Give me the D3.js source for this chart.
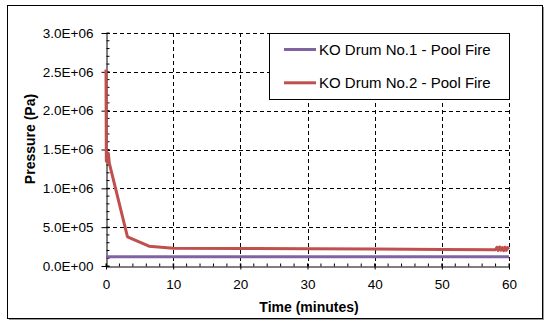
<!DOCTYPE html>
<html>
<head>
<meta charset="utf-8">
<script src="https://cdn.jsdelivr.net/npm/d3@7"></script>
<style>
  body { margin: 0; background: #fff; }
  svg { display: block; font-family: "Liberation Sans", Arial, sans-serif; }
</style>
</head>
<body>
<svg id="chart" width="546" height="322"></svg>
<script>
// ---- data ----
const seriesNames = ["KO Drum No.1 - Pool Fire", "KO Drum No.2 - Pool Fire"];
const seriesColors = ["#8064A2", "#C0504D"];
const drum1Time = [0, 10, 20, 30, 40, 50, 60];
const drum1Pressure = [120000, 120000, 120000, 120000, 120000, 120000, 120000];
const drum2Time = [0, 0.05, 0.35, 0.5, 3.2, 6.4, 10, 20, 30, 40, 50, 58, 58.2, 58.4, 58.6, 58.8, 59.0, 59.2, 59.4, 59.6, 59.8, 60];
const drum2Pressure = [2530000, 1350000, 1450000, 1320000, 375000, 255000, 230000, 226000, 222000, 218000, 213000, 210000, 240000, 200000, 245000, 205000, 238000, 198000, 242000, 202000, 236000, 215000];
const xTicks = [0, 10, 20, 30, 40, 50, 60];
const yTicks = [0, 500000, 1000000, 1500000, 2000000, 2500000, 3000000];
const xTitle = "Time (minutes)";
const yTitle = "Pressure (Pa)";

// ---- layout ----
const svg = d3.select("#chart");
const pLeft = 106, pRight = 509, pTop = 33, pBottom = 266;

const x = d3.scaleLinear().domain([0, 60]).range([pLeft, pRight]);
const y = d3.scaleLinear().domain([0, 3000000]).range([pBottom, pTop]);

const fmt = v => {
  if (v === 0) return "0.0E+00";
  const e = Math.floor(Math.log10(v));
  const m = v / Math.pow(10, e);
  return m.toFixed(1) + "E+" + String(e).padStart(2, "0");
};

// outer border with slight shadow
svg.append("rect").attr("x", 9).attr("y", 7).attr("width", 535).attr("height", 313)
  .attr("fill", "#9a9a9a");
svg.append("rect").attr("x", 7.5).attr("y", 5.5).attr("width", 535).attr("height", 313)
  .attr("fill", "#fff").attr("stroke", "#000").attr("stroke-width", 1);

// grid
const grid = svg.append("g");
grid.selectAll("line.gy").data(yTicks.filter(d => d > 0)).join("line")
  .attr("x1", pLeft).attr("x2", pRight)
  .attr("y1", d => Math.round(y(d)) + 0.5).attr("y2", d => Math.round(y(d)) + 0.5)
  .attr("stroke", "#000").attr("stroke-dasharray", "4,3").attr("stroke-width", 1);
grid.selectAll("line.gx").data(xTicks.filter(d => d > 0)).join("line")
  .attr("y1", pTop).attr("y2", pBottom)
  .attr("x1", d => Math.round(x(d)) + 0.5).attr("x2", d => Math.round(x(d)) + 0.5)
  .attr("stroke", "#000").attr("stroke-dasharray", "4,3").attr("stroke-width", 1);

// minor ticks
const yMinor = d3.range(0, 3000001, 100000);
const xMinor = d3.range(0, 61, 2);

// y axis
const yAxis = svg.append("g").attr("transform", `translate(${pLeft + 0.5},0)`)
  .call(d3.axisLeft(y).tickValues(yTicks).tickFormat(fmt).tickSizeInner(5).tickSizeOuter(0).tickPadding(8));
yAxis.select(".domain").attr("stroke", "#000");
yAxis.selectAll(".tick line").attr("x2", -5).attr("x1", 3);
yAxis.selectAll(".tick text").attr("font-size", "13.5px").attr("fill", "#000")
  .attr("font-family", "Liberation Sans, Arial, sans-serif");
yAxis.selectAll("line.minor").data(yMinor).join("line").attr("class", "minor")
  .attr("x1", 0).attr("x2", 3).attr("y1", d => y(d)).attr("y2", d => y(d)).attr("stroke", "#000");

// x axis
const xAxis = svg.append("g").attr("transform", `translate(0,${pBottom + 0.5})`)
  .call(d3.axisBottom(x).tickValues(xTicks).tickFormat(d3.format("d")).tickSizeInner(3).tickSizeOuter(0).tickPadding(10));
xAxis.select(".domain").attr("stroke", "#000");
xAxis.selectAll(".tick line").attr("y1", -3).attr("y2", 3);
xAxis.selectAll(".tick text").attr("font-size", "13.5px").attr("fill", "#000")
  .attr("font-family", "Liberation Sans, Arial, sans-serif");
xAxis.selectAll("line.minor").data(xMinor).join("line").attr("class", "minor")
  .attr("y1", 0).attr("y2", -3).attr("x1", d => x(d)).attr("x2", d => x(d)).attr("stroke", "#000");

// series
const line = d3.line().x(d => x(d[0])).y(d => y(d[1]));
svg.append("path").datum(drum1Time.map((t, i) => [t, drum1Pressure[i]]))
  .attr("d", line).attr("fill", "none").attr("stroke", seriesColors[0]).attr("stroke-width", 3);
svg.append("path").datum(drum2Time.map((t, i) => [t, drum2Pressure[i]]))
  .attr("d", line).attr("fill", "none").attr("stroke", seriesColors[1]).attr("stroke-width", 3)
  .attr("stroke-linejoin", "round");

// axis titles
svg.append("text").attr("x", 309).attr("y", 312).attr("text-anchor", "middle")
  .attr("font-size", "14px").attr("font-weight", "bold").text(xTitle);
svg.append("text").attr("transform", "translate(35,139) rotate(-90)").attr("text-anchor", "middle")
  .attr("font-size", "14px").attr("font-weight", "bold").text(yTitle);

// legend
const lg = svg.append("g");
lg.append("rect").attr("x", 269.5).attr("y", 33.5).attr("width", 240).attr("height", 66)
  .attr("fill", "#fff").attr("stroke", "#000");
seriesNames.forEach((name, i) => {
  const ly = 49.5 + i * 33.3;
  lg.append("line").attr("x1", 284).attr("x2", 316).attr("y1", ly).attr("y2", ly)
    .attr("stroke", seriesColors[i]).attr("stroke-width", 3);
  lg.append("text").attr("x", 319).attr("y", ly + 5.5).attr("font-size", "15px").attr("fill", "#000").text(name);
});
</script>
</body>
</html>
